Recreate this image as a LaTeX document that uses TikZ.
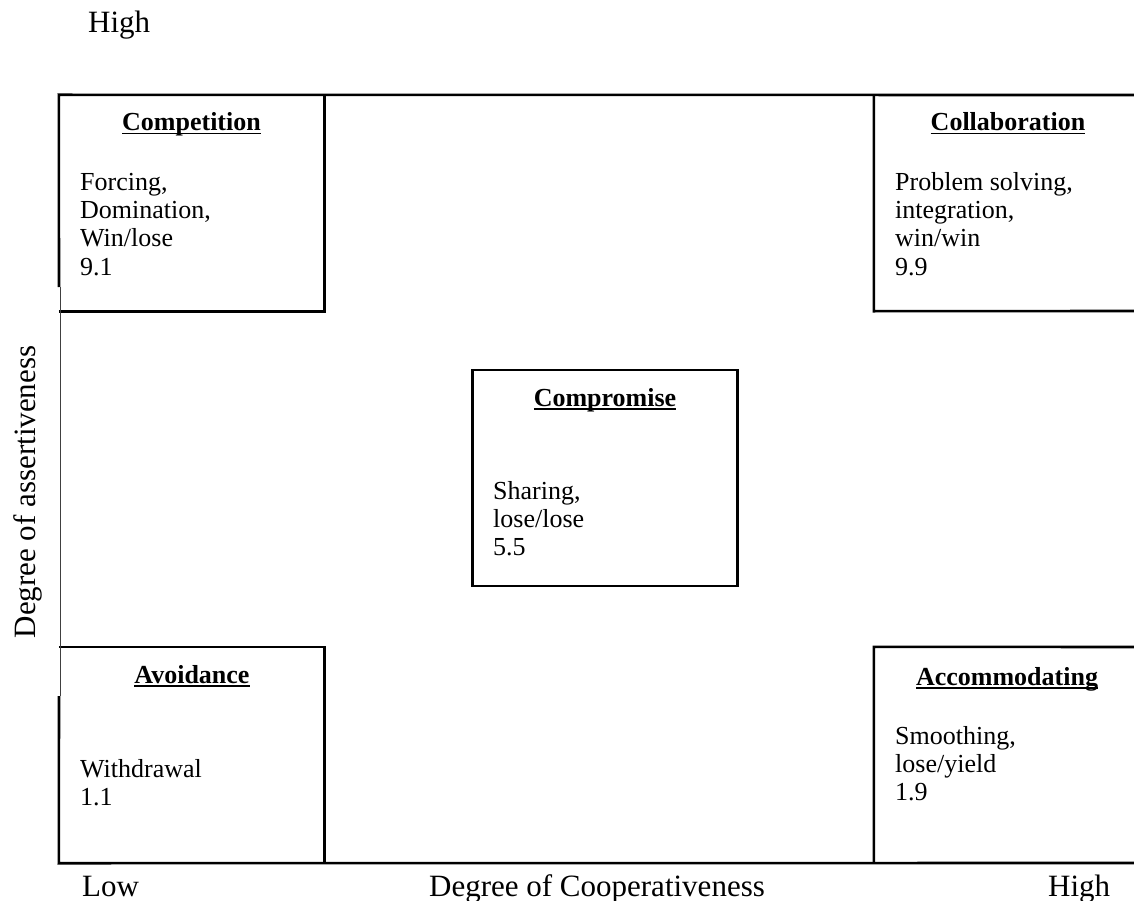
\documentclass[tikz,border=0pt]{standalone}
\usepackage{fontspec}
\setmainfont{Liberation Serif}
\newcommand\myul[1]{\setbox0\hbox{#1}\rlap{\rule[-3.5pt]{\wd0}{1.6pt}}\box0}
\begin{document}
\begin{tikzpicture}[x=1pt,y=-1pt,
  body/.style={anchor=base west, inner sep=0pt, font=\fontsize{26}{28}\selectfont},
  head/.style={anchor=base, inner sep=0pt, font=\fontsize{26}{28}\selectfont\bfseries},
  axis/.style={inner sep=0pt, font=\fontsize{31}{36}\selectfont},
  frame/.style={line width=2.6pt},
  boxarea/.style={minimum width=265pt, minimum height=216pt, inner sep=0pt}]
\useasboundingbox (0,0) rectangle (1134,901);

% box areas
\node[boxarea] (comp)   at (191.5,203) {};
\node[boxarea] (collab) at (1006.5,203) {};
\node[boxarea, draw, frame] (mid) at (605,478) {};
\node[boxarea] (avoid)  at (191.5,755) {};
\node[boxarea] (accom)  at (1006.5,755) {};

\coordinate (ltop) at (59,287);
\coordinate (lbot) at (59,696);
\coordinate (tr) at (1134,95);
\coordinate (cr) at (1134,311);
\coordinate (ar) at (1134,647);
\coordinate (br) at (1134,863);

% frame
\draw[frame] (ltop) -- (comp.north west) -- (tr);
\draw[frame] (comp.south west) -- (comp.south east) -- (comp.north east);
\draw[frame] (collab.north west) -- (collab.south west) -- (cr);
\draw[frame] (lbot) -- (avoid.south west) -- (br);
\draw[frame] (avoid.north west) -- (avoid.north east) -- (avoid.south east);
\draw[frame] (ar) -- (accom.north west) -- (accom.south west);
\draw[line width=1pt, black!75] (60,287) -- (60,696);

% Competition
\node[head] (h1) at (191.5,131) {\myul{Competition}};
\node[body] (c1) at (80,191) {Forcing,};
\node[body] (c2) at (80,219) {Domination,};
\node[body] (c3) at (80,247) {Win/lose};
\node[body] (c4) at (80,275) {9.1};

% Collaboration
\node[head] (h2) at (1008,131) {\myul{Collaboration}};
\node[body] (l1) at (895,191) {Problem solving,};
\node[body] (l2) at (895,219) {integration,};
\node[body] (l3) at (895,247) {win/win};
\node[body] (l4) at (895,275) {9.9};

% Compromise
\node[head] (h3) at (605,406) {\myul{Compromise}};
\node[body] (m1) at (493,499) {Sharing,};
\node[body] (m2) at (493,527) {lose/lose};
\node[body] (m3) at (493,555) {5.5};

% Avoidance
\node[head] (h4) at (192,683) {\myul{Avoidance}};
\node[body] (a1) at (80,777) {Withdrawal};
\node[body] (a2) at (80,805) {1.1};

% Accommodating
\node[head] (h5) at (1007,685) {\myul{Accommodating}};
\node[body] (d1) at (895,744) {Smoothing,};
\node[body] (d2) at (895,772) {lose/yield};
\node[body] (d3) at (895,800) {1.9};

% axis labels
\node[axis, anchor=base west] (hightop) at (88,33) {High};
\node[axis, anchor=base west] (low) at (82,896) {Low};
\node[axis, anchor=base] (coop) at (597,896) {Degree of Cooperativeness};
\node[axis, anchor=base west] (highr) at (1048,896) {High};
\node[axis, anchor=base, rotate=90] (assert) at (35,492) {Degree of assertiveness};
\end{tikzpicture}
\end{document}
